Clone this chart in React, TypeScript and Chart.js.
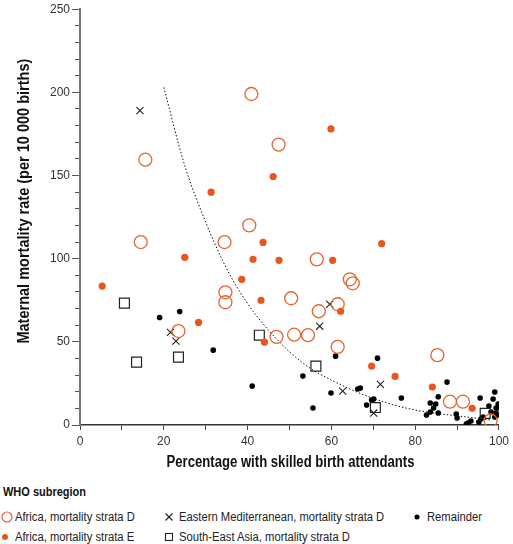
import React, { useEffect, useRef } from "react";
import { Chart, registerables } from "chart.js";
Chart.register(...registerables);

const FONT = "'Liberation Sans', Arial, sans-serif";
const NARROW = 0.82;

const seriesNames = [
  "Africa, mortality strata D",
  "Africa, mortality strata E",
  "Eastern Mediterranean, mortality strata D",
  "South-East Asia, mortality strata D",
  "Remainder",
];
const legendTitle = "WHO subregion";
const xTitle = "Percentage with skilled birth attendants";
const yTitle = "Maternal mortality rate (per 10 000 births)";

const xTickLabels = [0, 20, 40, 60, 80, 100];
const yTickLabels = [0, 50, 100, 150, 200, 250];

const africaD: [number, number][] = [
  [15.6, 159.5], [40.9, 199], [47.4, 168.6], [40.4, 120], [34.5, 110], [14.5, 110],
  [56.5, 99.6], [64.4, 87.6], [65.1, 85.2], [50.4, 76.2], [57, 68.4], [61.5, 72.6],
  [34.7, 79.8], [34.7, 73.8], [23.5, 56.5], [46.9, 53], [51.1, 54.3], [54.4, 54],
  [61.5, 47], [85.3, 42], [88.3, 14], [91.4, 14], [98, 2.7],
];

const africaE: [number, number][] = [
  [31.3, 140], [46.1, 149.4], [59.9, 178], [43.7, 109.8], [72, 109], [25, 100.8],
  [41.3, 99.6], [47.5, 99], [60.3, 99], [38.6, 87.6], [43.2, 75], [62.2, 68.4],
  [5.3, 83.5], [28.3, 61.7], [44, 49.8], [69.6, 35.4], [75.2, 29.2], [84.1, 22.8],
  [93.6, 10],
];

const eastMed: [number, number][] = [
  [14.3, 189], [21.6, 55.7], [22.9, 50.4], [59.6, 72.6], [57.2, 59.4], [62.7, 20.4],
  [71.7, 24.4], [70.1, 7.2],
];

const seAsia: [number, number][] = [
  [10.6, 73.3], [13.5, 37.8], [23.5, 40.8], [42.8, 54], [56.3, 35.4], [70.5, 10.5],
  [96.7, 7],
];

const remainder: [number, number][] = [
  [19, 64.6], [23.8, 68.2], [31.8, 45], [41.1, 23.4], [61, 41.4], [71, 40.2],
  [53.2, 29.4], [66.3, 21.6], [66.9, 22.2], [59.9, 19.2], [55.6, 10.2], [69.6, 15],
  [70.1, 15.6], [68.4, 12], [76.7, 16.2], [82.7, 6], [87.6, 25.8], [85.5, 17],
  [83.6, 7.8], [83.6, 13.2], [84.4, 10.2], [84.9, 12.6], [85.5, 7.2], [89.8, 6.6],
  [90, 4.2], [92.2, 0.6], [92.6, 1.2], [93.3, 2.4], [95.2, 1.8], [95.7, 3.6],
  [96.2, 4.8], [95.5, 16.2], [99, 19.8], [98.6, 15.6], [97.6, 11.4], [99.8, 12.6],
  [100, 10.2], [99.3, 10.2], [98.1, 7.8], [99.3, 7.2], [99.8, 6], [99, 4.8],
];

const trendX = [20, 25, 30, 35, 40, 45, 50, 55, 60, 65, 70, 75, 80, 85, 90, 95, 98];
const trendY = [203, 156, 122, 94, 73, 57, 44, 34, 27, 21, 16, 12, 9, 7, 5.5, 4, 3];

const ORANGE = "#e8561c";
const ORANGE_LINE = "#e4652f";

const toPts = (arr: [number, number][]) => arr.map(([x, y]) => ({ x, y }));

// Axis titles drawn in a condensed bold face (horizontal scale to mimic a narrow font)
const titlesPlugin = {
  id: "titlesPlugin",
  afterDraw(chart: any) {
    const ctx = chart.ctx;
    const ca = chart.chartArea;
    const font = `bold 16px ${FONT}`;
    // y title
    ctx.save();
    ctx.font = font;
    ctx.fillStyle = "#111";
    ctx.textAlign = "center";
    ctx.textBaseline = "middle";
    const wy = ctx.measureText(yTitle).width;
    ctx.translate(25, (ca.top + ca.bottom) / 2 - 16);
    ctx.rotate(-Math.PI / 2);
    ctx.scale(285 / wy, 1);
    ctx.fillText(yTitle, 0, 0);
    ctx.restore();
    // x title
    ctx.save();
    ctx.font = font;
    ctx.fillStyle = "#111";
    ctx.textAlign = "center";
    ctx.textBaseline = "middle";
    const wx = ctx.measureText(xTitle).width;
    ctx.translate((ca.left + ca.right) / 2 + 1, ca.bottom + 38);
    ctx.scale(248 / wx, 1);
    ctx.fillText(xTitle, 0, 0);
    ctx.restore();
  },
};

function ChartView() {
  const ref = useRef<HTMLCanvasElement | null>(null);
  useEffect(() => {
    document.body.style.margin = "0";
    const canvas = ref.current!;
    const chart = new Chart(canvas, {
      type: "scatter",
      data: {
        datasets: [
          {
            label: seriesNames[0],
            data: toPts(africaD),
            pointStyle: "circle",
            pointRadius: 6.5,
            borderColor: ORANGE_LINE,
            backgroundColor: "rgba(0,0,0,0)",
            borderWidth: 1.3,
          },
          {
            label: seriesNames[1],
            data: toPts(africaE),
            pointStyle: "circle",
            pointRadius: 3.6,
            borderColor: ORANGE,
            backgroundColor: ORANGE,
            borderWidth: 0,
          },
          {
            label: seriesNames[2],
            data: toPts(eastMed),
            pointStyle: "crossRot",
            pointRadius: 5,
            borderColor: "#222",
            borderWidth: 1.1,
          },
          {
            label: seriesNames[3],
            data: toPts(seAsia),
            pointStyle: "rect",
            pointRadius: 7,
            borderColor: "#222",
            backgroundColor: "rgba(255,255,255,0)",
            borderWidth: 1.2,
          },
          {
            label: seriesNames[4],
            data: toPts(remainder),
            pointStyle: "circle",
            pointRadius: 2.8,
            borderColor: "#000",
            backgroundColor: "#000",
            borderWidth: 0,
          },
          {
            type: "line",
            label: "trend",
            data: trendX.map((x, i) => ({ x, y: trendY[i] })),
            showLine: true,
            pointRadius: 0,
            borderColor: "#111",
            borderWidth: 1,
            borderDash: [1.5, 2],
            cubicInterpolationMode: "monotone",
            fill: false,
          } as any,
        ],
      },
      options: {
        animation: false,
        responsive: false,
        events: [],
        layout: { padding: { left: 0, right: 13, top: 8, bottom: 0 } },
        plugins: { legend: { display: false }, tooltip: { enabled: false } },
        scales: {
          x: {
            type: "linear",
            min: 0,
            max: 100,
            afterFit: (s: any) => { s.height = 55; },
            border: { color: "#333", width: 1.5 },
            grid: { drawOnChartArea: false, drawTicks: true, tickLength: 5, color: "#444" },
            ticks: {
              stepSize: 10,
              autoSkip: false,
              padding: 4,
              color: "#333",
              font: { family: FONT, size: 12 },
              maxRotation: 0,
              callback: (v: any) => (xTickLabels.includes(v) ? String(v) : ""),
            },
          },
          y: {
            type: "linear",
            min: 0,
            max: 250,
            weight: 1,
            afterFit: (s: any) => { s.width = 80; },
            border: { color: "#777", width: 2 },
            grid: { drawOnChartArea: false, drawTicks: true, tickLength: 8, color: "#555" },
            ticks: {
              stepSize: 50,
              autoSkip: false,
              padding: 2,
              color: "#333",
              font: { family: FONT, size: 12 },
              callback: (v: any) => (yTickLabels.includes(v) ? String(v) : ""),
            },
          },
          yMinor: {
            type: "linear",
            position: "left",
            min: 0,
            max: 250,
            weight: 0,
            afterFit: (s: any) => { s.width = 0; },
            border: { display: false },
            grid: { drawOnChartArea: false, drawTicks: true, tickLength: 5, color: "#555" },
            ticks: { stepSize: 10, autoSkip: false, display: false },
          },
        },
      },
      plugins: [titlesPlugin],
    } as any);
    return () => chart.destroy();
  }, []);
  return <canvas ref={ref} width={513} height={480} style={{ display: "block" }} />;
}

const Marker = ({ kind }: { kind: number }) => {
  const s = 12;
  return (
    <svg width={s} height={s} style={{ position: "absolute", left: -6, top: -6 }}>
      {kind === 0 && <circle cx={6} cy={6} r={5} fill="none" stroke={ORANGE_LINE} strokeWidth={1.2} />}
      {kind === 1 && <circle cx={6} cy={6} r={3} fill={ORANGE} />}
      {kind === 2 && (
        <g stroke="#222" strokeWidth={1.1}>
          <line x1={2.5} y1={2.5} x2={9.5} y2={9.5} />
          <line x1={9.5} y1={2.5} x2={2.5} y2={9.5} />
        </g>
      )}
      {kind === 3 && <rect x={2.5} y={2.5} width={7} height={7} fill="none" stroke="#222" strokeWidth={1.1} />}
      {kind === 4 && <circle cx={6} cy={6} r={2.5} fill="#000" />}
    </svg>
  );
};

export default function App() {
  const legendPos = [
    { mx: 7, tx: 15, y: 517 },
    { mx: 5, tx: 15, y: 537 },
    { mx: 169, tx: 179, y: 517 },
    { mx: 169, tx: 179, y: 537 },
    { mx: 417, tx: 427, y: 517 },
  ];
  return (
    <div style={{ position: "relative", width: 513, height: 544, background: "#fff", overflow: "hidden" }}>
      <ChartView />
      <div
        style={{
          position: "absolute",
          left: 3,
          top: 484,
          font: `bold 13.4px ${FONT}`,
          color: "#111",
          lineHeight: "16px",
          whiteSpace: "nowrap",
          transform: `scaleX(${NARROW})`,
          transformOrigin: "0 50%",
        }}
      >
        {legendTitle}
      </div>
      {seriesNames.map((name, i) => (
        <React.Fragment key={name}>
          <div style={{ position: "absolute", left: legendPos[i].mx, top: legendPos[i].y, width: 0, height: 0 }}>
            <Marker kind={i} />
          </div>
          <div
            style={{
              position: "absolute",
              left: legendPos[i].tx,
              top: legendPos[i].y - 8,
              font: `13.7px ${FONT}`,
              color: "#222",
              lineHeight: "16px",
              whiteSpace: "nowrap",
              transform: `scaleX(${NARROW})`,
              transformOrigin: "0 50%",
            }}
          >
            {name}
          </div>
        </React.Fragment>
      ))}
    </div>
  );
}
